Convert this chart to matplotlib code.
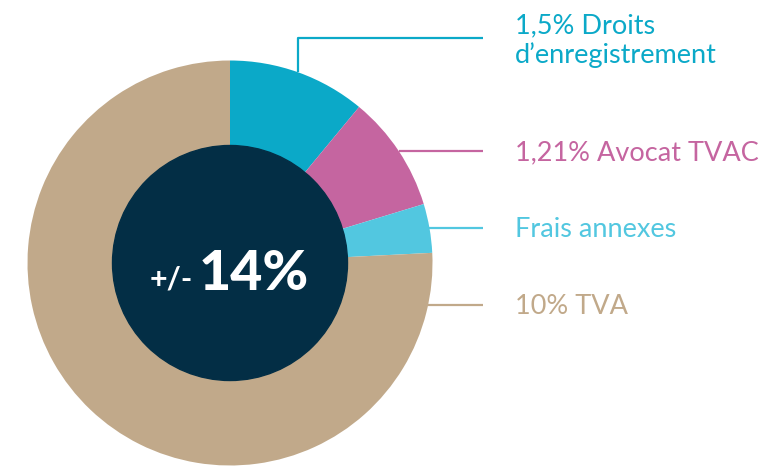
import matplotlib
matplotlib.use("Agg")
import matplotlib.pyplot as plt
from matplotlib.patches import Circle

# Data (share of the donut)
labels = ["1,5% Droits\nd\u2019enregistrement", "1,21% Avocat TVAC", "Frais annexes", "10% TVA"]
shares = [11.0, 9.3, 3.9, 75.8]
colors = ["#0BA9C8", "#C565A0", "#52C7E0", "#C1A98A"]
center_small = "+/-"
center_big = "14%"

W, H = 759, 467
fig = plt.figure(figsize=(W / 100, H / 100), dpi=100)
ax = fig.add_axes([0, 0, 1, 1])

def Y(py):
    return H - py

cx, cy = 230, Y(263)
R = 202.5
r_in = 117

ax.pie(shares, colors=colors, startangle=90, counterclock=False,
       center=(cx, cy), radius=R, frame=True,
       wedgeprops=dict(width=R - r_in, linewidth=0))
ax.set_xlim(0, W)
ax.set_ylim(0, H)
ax.set_aspect("equal")
ax.axis("off")
ax.add_patch(Circle((cx, cy), r_in + 0.5, color="#032E45", zorder=3))

# center text
ax.text(150, Y(289), center_small, fontsize=22, fontweight="bold", color="white",
        family="Lato", ha="left", va="baseline", zorder=4)
ax.text(199, Y(290), center_big, fontsize=40, fontweight=900, color="white",
        family="Lato", ha="left", va="baseline", zorder=4)

# leader lines
lw = 1.6
ax.plot([298, 298, 483], [Y(72), Y(38), Y(38)], color=colors[0], lw=lw, solid_capstyle="butt")
ax.plot([399, 483], [Y(151), Y(151)], color=colors[1], lw=lw, solid_capstyle="butt")
ax.plot([429, 483], [Y(228), Y(228)], color=colors[2], lw=lw, solid_capstyle="butt")
ax.plot([428, 483], [Y(305), Y(305)], color=colors[3], lw=lw, solid_capstyle="butt")

# labels
fs = 19.5
first, second = labels[0].split("\n")
ax.text(515, Y(33), first, fontsize=fs, color=colors[0], family="Lato", va="baseline")
ax.text(515, Y(63), second, fontsize=fs, color=colors[0], family="Lato", va="baseline")
ax.text(515, Y(160), labels[1], fontsize=fs, color=colors[1], family="Lato", va="baseline")
ax.text(515, Y(237), labels[2], fontsize=fs, color=colors[2], family="Lato", va="baseline")
ax.text(515, Y(314), labels[3], fontsize=fs, color=colors[3], family="Lato", va="baseline")

fig.savefig("out.png", dpi=100)
